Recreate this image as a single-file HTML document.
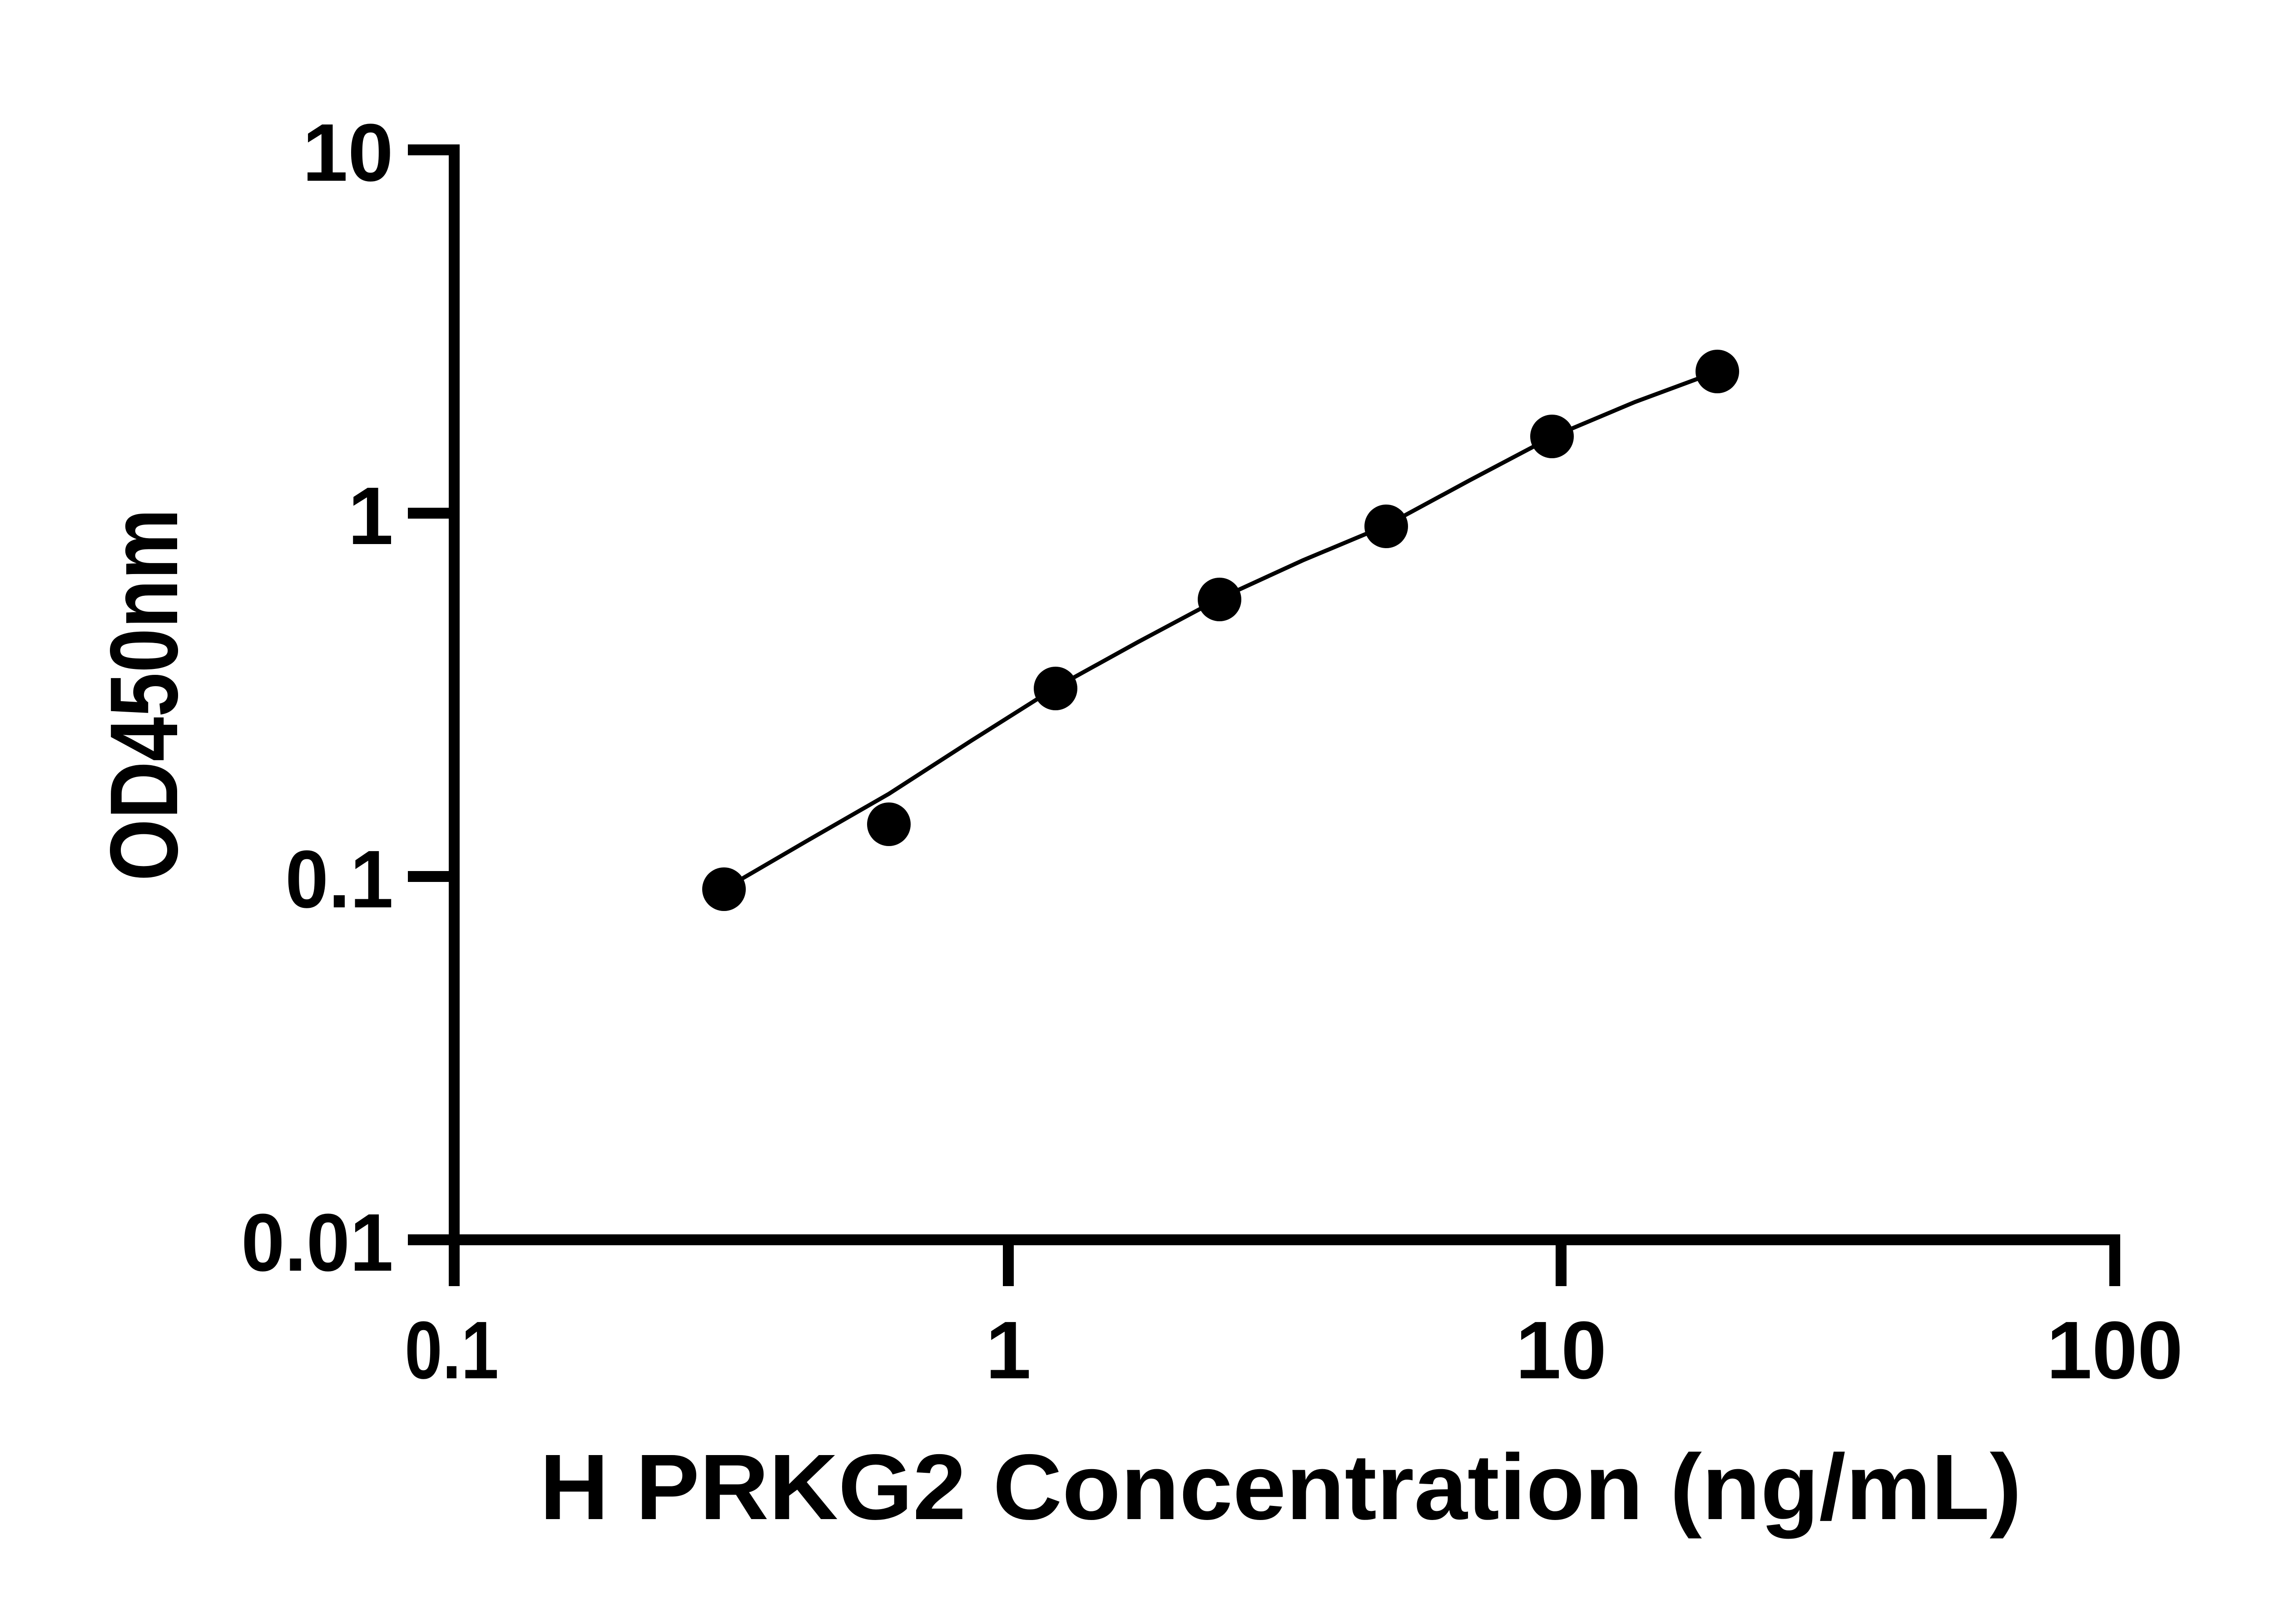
<!DOCTYPE html>
<html><head><style>html,body{margin:0;padding:0;background:#fff}svg{display:block}</style></head>
<body>
<svg width="5170" height="3576" viewBox="0 0 5170 3576" xmlns="http://www.w3.org/2000/svg">
<rect width="5170" height="3576" fill="#fff"/>
<g stroke="#000" stroke-width="24" fill="none">
<line x1="1000" y1="318" x2="1000" y2="2832"/>
<line x1="898" y1="2730" x2="4668" y2="2730"/>
<line x1="898" y1="330" x2="1000" y2="330"/>
<line x1="898" y1="1130" x2="1000" y2="1130"/>
<line x1="898" y1="1930" x2="1000" y2="1930"/>
<line x1="2220" y1="2730" x2="2220" y2="2832"/>
<line x1="3437" y1="2730" x2="3437" y2="2832"/>
<line x1="4656" y1="2730" x2="4656" y2="2832"/>
</g>
<g font-family="Liberation Sans, sans-serif" font-weight="bold" font-size="180" fill="#000">
<text x="866" y="398" text-anchor="end">10</text>
<text x="866" y="1198" text-anchor="end">1</text>
<text x="866" y="1998" text-anchor="end" textLength="238" lengthAdjust="spacingAndGlyphs">0.1</text>
<text x="866" y="2798" text-anchor="end" textLength="335" lengthAdjust="spacingAndGlyphs">0.01</text>
<text x="891" y="3035" textLength="207" lengthAdjust="spacingAndGlyphs">0.1</text>
<text x="2220" y="3035" text-anchor="middle">1</text>
<text x="3437" y="3035" text-anchor="middle">10</text>
<text x="4656" y="3035" text-anchor="middle">100</text>
</g>
<text x="1188" y="3345" font-family="Liberation Sans, sans-serif" font-weight="bold" font-size="205" textLength="3263" lengthAdjust="spacingAndGlyphs">H PRKG2 Concentration (ng/mL)</text>
<text transform="translate(390,1940) rotate(-90)" x="0" y="0" font-family="Liberation Sans, sans-serif" font-weight="bold" font-size="212" textLength="820" lengthAdjust="spacingAndGlyphs">OD450nm</text>
<polyline fill="none" stroke="#000" stroke-width="9" points="1594,1958 1776,1852 1957,1748 2140,1630 2324,1514 2505,1414 2685,1318 2868,1234 3052,1157 3235,1058 3417,962 3600,885 3781,818"/>
<g fill="#000">
<circle cx="1594" cy="1958" r="48"/>
<circle cx="1957" cy="1815" r="48"/>
<circle cx="2324" cy="1516" r="48"/>
<circle cx="2685" cy="1320" r="48"/>
<circle cx="3052" cy="1159" r="48"/>
<circle cx="3417" cy="961" r="48"/>
<circle cx="3781" cy="818" r="48"/>
</g>
</svg>
</body></html>
